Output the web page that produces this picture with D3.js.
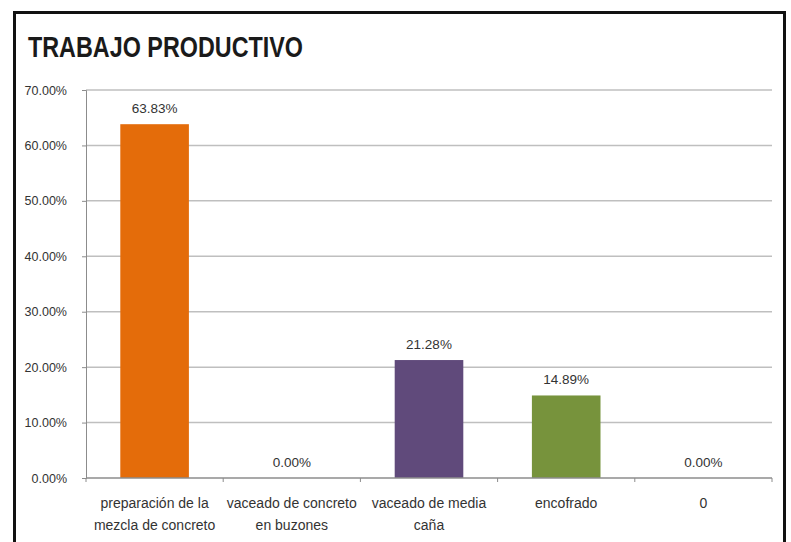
<!DOCTYPE html>
<html><head><meta charset="utf-8">
<script src="https://cdn.jsdelivr.net/npm/d3@7"></script>
<style>body{margin:0;background:#fff}svg{display:block}</style>
</head><body>
<svg id="c" width="791" height="542"></svg>
<script>
const categories = [
  ["preparación de la", "mezcla de concreto"],
  ["vaceado de concreto", "en buzones"],
  ["vaceado de media", "caña"],
  ["encofrado"],
  ["0"]
];
const values = [63.83, 0, 21.28, 14.89, 0];
const colors = ["#E46C0A", "#E46C0A", "#604A7B", "#77933C", "#77933C"];
const yTicks = [0, 10, 20, 30, 40, 50, 60, 70];
const title = "TRABAJO PRODUCTIVO";

const FONT = "Liberation Sans, Arial, sans-serif";
const svg = d3.select("#c");
const W = 791, H = 542;
const m = {left: 86, right: 19, top: 90, bottom: 64};
const x = d3.scaleBand().domain(d3.range(values.length)).range([m.left, W - m.right]).paddingInner(0.5).paddingOuter(0.25);
const y = d3.scaleLinear().domain([0, 70]).range([H - m.bottom, m.top]);

svg.append("rect").attr("x", 0).attr("y", 0).attr("width", W).attr("height", H).attr("fill", "#fff");
svg.append("rect").attr("x", 14.5).attr("y", 12.5).attr("width", 770).attr("height", 560)
  .attr("fill", "none").attr("stroke", "#111").attr("stroke-width", 3);

svg.append("text").attr("x", 28).attr("y", 57).text(title)
  .attr("font-family", FONT).attr("font-weight", "bold")
  .attr("font-size", 29).attr("fill", "#1a1a1a").attr("textLength", 275).attr("lengthAdjust", "spacingAndGlyphs");

// gridlines
svg.append("g").selectAll("line").data(yTicks.filter(d => d > 0)).join("line")
  .attr("x1", m.left).attr("x2", W - m.right)
  .attr("y1", d => y(d)).attr("y2", d => y(d))
  .attr("stroke", "#BFBFBF").attr("stroke-width", 1.5);

// y axis
const yAxis = d3.axisLeft(y).tickValues(yTicks).tickFormat(d => d.toFixed(2) + "%").tickSize(4).tickPadding(15);
const gy = svg.append("g").attr("transform", `translate(${m.left},0)`).call(yAxis);
gy.select(".domain").attr("stroke", "#8c8c8c");
gy.selectAll(".tick line").attr("stroke", "#8c8c8c");
gy.selectAll("text").attr("font-family", FONT).attr("font-size", 12.5).attr("fill", "#333");

// bars
svg.append("g").selectAll("rect").data(values).join("rect")
  .attr("x", (d, i) => x(i)).attr("width", x.bandwidth())
  .attr("y", d => y(d)).attr("height", d => y(0) - y(d))
  .attr("fill", (d, i) => colors[i]);

// data labels
svg.append("g").selectAll("text").data(values).join("text")
  .attr("x", (d, i) => x(i) + x.bandwidth() / 2).attr("y", d => y(d) - 11)
  .attr("text-anchor", "middle").text(d => d.toFixed(2) + "%")
  .attr("font-family", FONT).attr("font-size", 13.5).attr("fill", "#333");

// x axis
const xAxis = svg.append("g");
xAxis.append("line").attr("x1", m.left).attr("x2", W - m.right).attr("y1", y(0)).attr("y2", y(0))
  .attr("stroke", "#8c8c8c").attr("stroke-width", 1.5);
const bounds = d3.range(values.length + 1).map(i => m.left + (W - m.left - m.right) * i / values.length);
xAxis.selectAll(".tk").data(bounds).join("line").attr("class", "tk")
  .attr("x1", d => d).attr("x2", d => d).attr("y1", y(0)).attr("y2", y(0) + 4).attr("stroke", "#8c8c8c");
const lab = xAxis.selectAll(".cl").data(categories).join("text").attr("class", "cl")
  .attr("x", (d, i) => x(i) + x.bandwidth() / 2).attr("y", y(0) + 30)
  .attr("text-anchor", "middle").attr("font-family", FONT)
  .attr("font-size", 14).attr("fill", "#333");
lab.selectAll("tspan").data(d => d).join("tspan")
  .attr("x", function() { return this.parentNode.getAttribute("x"); })
  .attr("dy", (d, i) => i === 0 ? 0 : 22).text(d => d);
</script>
</body></html>
